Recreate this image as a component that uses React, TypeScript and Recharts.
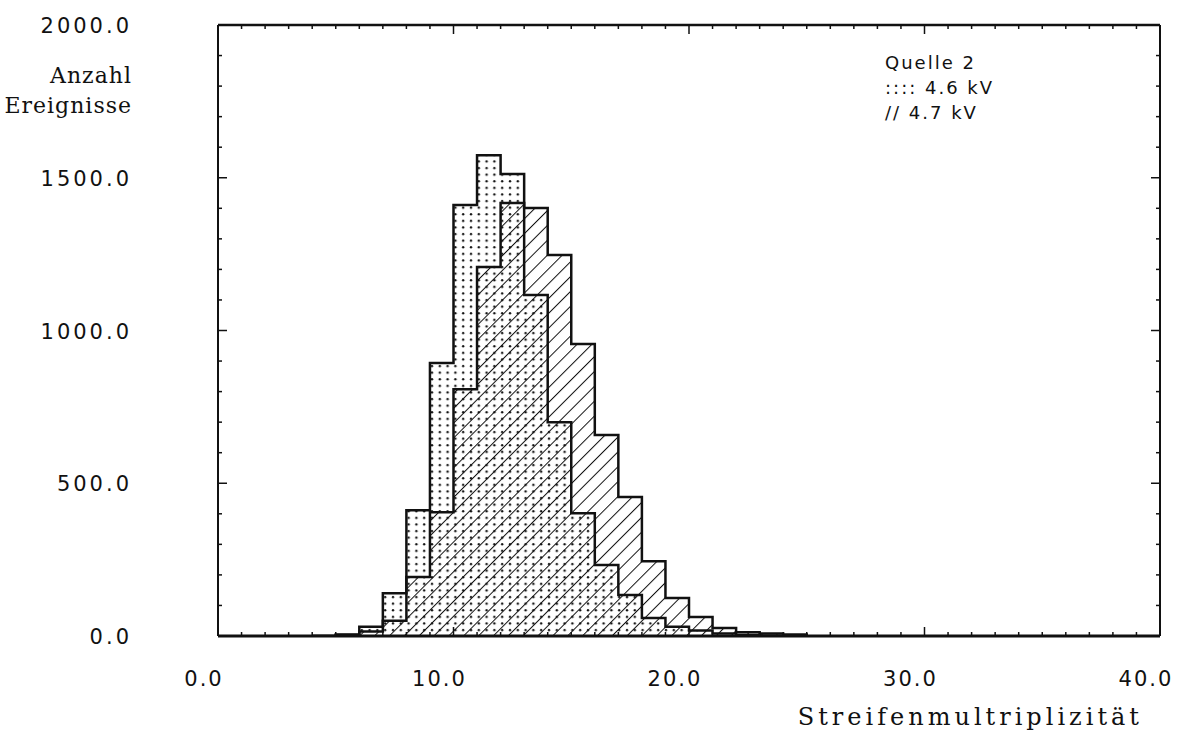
import { ComposedChart, Area, XAxis, YAxis } from "recharts";

// left edge of each histogram bin (bin width 1)
const BINS = [4, 5, 6, 7, 8, 9, 10, 11, 12, 13, 14, 15, 16, 17, 18, 19, 20, 21, 22, 23, 24];
// Quelle 2, 4.6 kV (dotted)
const COUNTS_46KV = [0, 5, 30, 140, 412, 894, 1411, 1574, 1512, 1116, 700, 402, 232, 134, 59, 30, 18, 8, 3, 1, 0];
// Quelle 2, 4.7 kV (hatched)
const COUNTS_47KV = [0, 3, 15, 50, 193, 405, 808, 1208, 1417, 1401, 1247, 956, 658, 455, 245, 124, 62, 26, 12, 8, 5];

const X_MAJOR = [0, 10, 20, 30, 40];
const Y_MAJOR = [0, 500, 1000, 1500, 2000];
const X_TICKS = Array.from({ length: 41 }, (_, i) => i);
const Y_TICKS = Array.from({ length: 21 }, (_, i) => i * 100);

const LEGEND_LINES = ["Quelle 2", ":::: 4.6 kV", "// 4.7 kV"];

const data = [
  ...BINS.map((x, i) => ({ x, low: COUNTS_46KV[i], high: COUNTS_47KV[i] })),
  { x: BINS[BINS.length - 1] + 1, low: 0, high: 0 },
];

const INK = "#111";
const NUM_FONT = "DejaVu Sans";
const TITLE_FONT = "DejaVu Serif";
const MINOR = 4;
const MAJOR = 9;

// tick marks point into the plot, like the original frame
const BottomTick = ({ x, y, payload }: any) => {
  const v = payload.value as number;
  const major = X_MAJOR.includes(v);
  return (
    <g>
      <line x1={x} x2={x} y1={y} y2={y - (major ? MAJOR : MINOR)} stroke={INK} strokeWidth={1.5} />
      {major && (
        <text x={x} y={y + 50} dx={-14} textAnchor="middle" fontFamily={NUM_FONT} fontSize={21} letterSpacing={2} fill={INK}>
          {v.toFixed(1)}
        </text>
      )}
    </g>
  );
};

const TopTick = ({ x, y, payload }: any) => {
  const major = X_MAJOR.includes(payload.value);
  return <line x1={x} x2={x} y1={y} y2={y + (major ? MAJOR : MINOR)} stroke={INK} strokeWidth={1.5} />;
};

const LeftTick = ({ x, y, payload }: any) => {
  const v = payload.value as number;
  const major = Y_MAJOR.includes(v);
  return (
    <g>
      <line x1={x} x2={x + (major ? MAJOR : MINOR)} y1={y} y2={y} stroke={INK} strokeWidth={1.5} />
      {major && (
        <text x={x - 86} y={y + 8} textAnchor="end" fontFamily={NUM_FONT} fontSize={21} letterSpacing={3} fill={INK}>
          {v.toFixed(1)}
        </text>
      )}
    </g>
  );
};

const RightTick = ({ x, y, payload }: any) => {
  const major = Y_MAJOR.includes(payload.value);
  return <line x1={x} x2={x - (major ? MAJOR : MINOR)} y1={y} y2={y} stroke={INK} strokeWidth={1.5} />;
};

export default function App() {
  return (
    <div style={{ position: "absolute", left: 0, top: 0, width: 1180, height: 734, background: "#fff" }}>
      <ComposedChart
        width={1180}
        height={734}
        data={data}
        margin={{ top: 24, right: 19, bottom: 58, left: 118 }}
      >
        <defs>
          <pattern id="dots" width={7.8} height={6.6} patternUnits="userSpaceOnUse">
            <circle cx={3} cy={3} r={1.2} fill={INK} />
          </pattern>
          <pattern
            id="hatch"
            width={10.5}
            height={10.5}
            patternUnits="userSpaceOnUse"
            patternTransform="rotate(45)"
          >
            <line x1={0} y1={0} x2={0} y2={10.5} stroke={INK} strokeWidth={2} />
          </pattern>
        </defs>

        <XAxis
          xAxisId="main"
          type="number"
          dataKey="x"
          domain={[0, 40]}
          allowDataOverflow
          ticks={X_TICKS}
          interval={0}
          height={40}
          tickLine={false}
          tickSize={0}
          tickMargin={0}
          axisLine={{ stroke: INK, strokeWidth: 3 }}
          tick={<BottomTick />}
        />
        <XAxis
          xAxisId="top"
          orientation="top"
          type="number"
          dataKey="x"
          domain={[0, 40]}
          allowDataOverflow
          ticks={X_TICKS}
          interval={0}
          height={1}
          tickLine={false}
          tickSize={0}
          tickMargin={0}
          axisLine={{ stroke: INK, strokeWidth: 2.5 }}
          tick={<TopTick />}
        />
        <YAxis
          yAxisId="main"
          type="number"
          domain={[0, 2000]}
          allowDataOverflow
          ticks={Y_TICKS}
          interval={0}
          width={100}
          tickLine={false}
          tickSize={0}
          tickMargin={0}
          axisLine={{ stroke: INK, strokeWidth: 2 }}
          tick={<LeftTick />}
        />
        <YAxis
          yAxisId="right"
          orientation="right"
          type="number"
          domain={[0, 2000]}
          allowDataOverflow
          ticks={Y_TICKS}
          interval={0}
          width={1}
          tickLine={false}
          tickSize={0}
          tickMargin={0}
          axisLine={{ stroke: INK, strokeWidth: 2 }}
          tick={<RightTick />}
        />

        <Area
          xAxisId="main"
          yAxisId="main"
          type="stepAfter"
          dataKey="low"
          stroke={INK}
          strokeWidth={2.5}
          fill="url(#dots)"
          fillOpacity={1}
          isAnimationActive={false}
          dot={false}
          activeDot={false}
        />
        <Area
          xAxisId="main"
          yAxisId="main"
          type="stepAfter"
          dataKey="high"
          stroke={INK}
          strokeWidth={2.5}
          fill="url(#hatch)"
          fillOpacity={1}
          isAnimationActive={false}
          dot={false}
          activeDot={false}
        />

        <g fontFamily={TITLE_FONT} fill={INK} fontSize={22} letterSpacing={1} textAnchor="end">
          <text x={132} y={83}>Anzahl</text>
          <text x={132} y={113}>Ereignisse</text>
        </g>
        <text
          x={1143}
          y={725}
          fontFamily={TITLE_FONT}
          fill={INK}
          fontSize={24}
          letterSpacing={4}
          textAnchor="end"
        >
          Streifenmultriplizität
        </text>
        <g fontFamily={NUM_FONT} fill={INK} fontSize={18} letterSpacing={2}>
          {LEGEND_LINES.map((line, i) => (
            <text key={line} x={885} y={69 + i * 25}>
              {line}
            </text>
          ))}
        </g>
      </ComposedChart>
    </div>
  );
}
